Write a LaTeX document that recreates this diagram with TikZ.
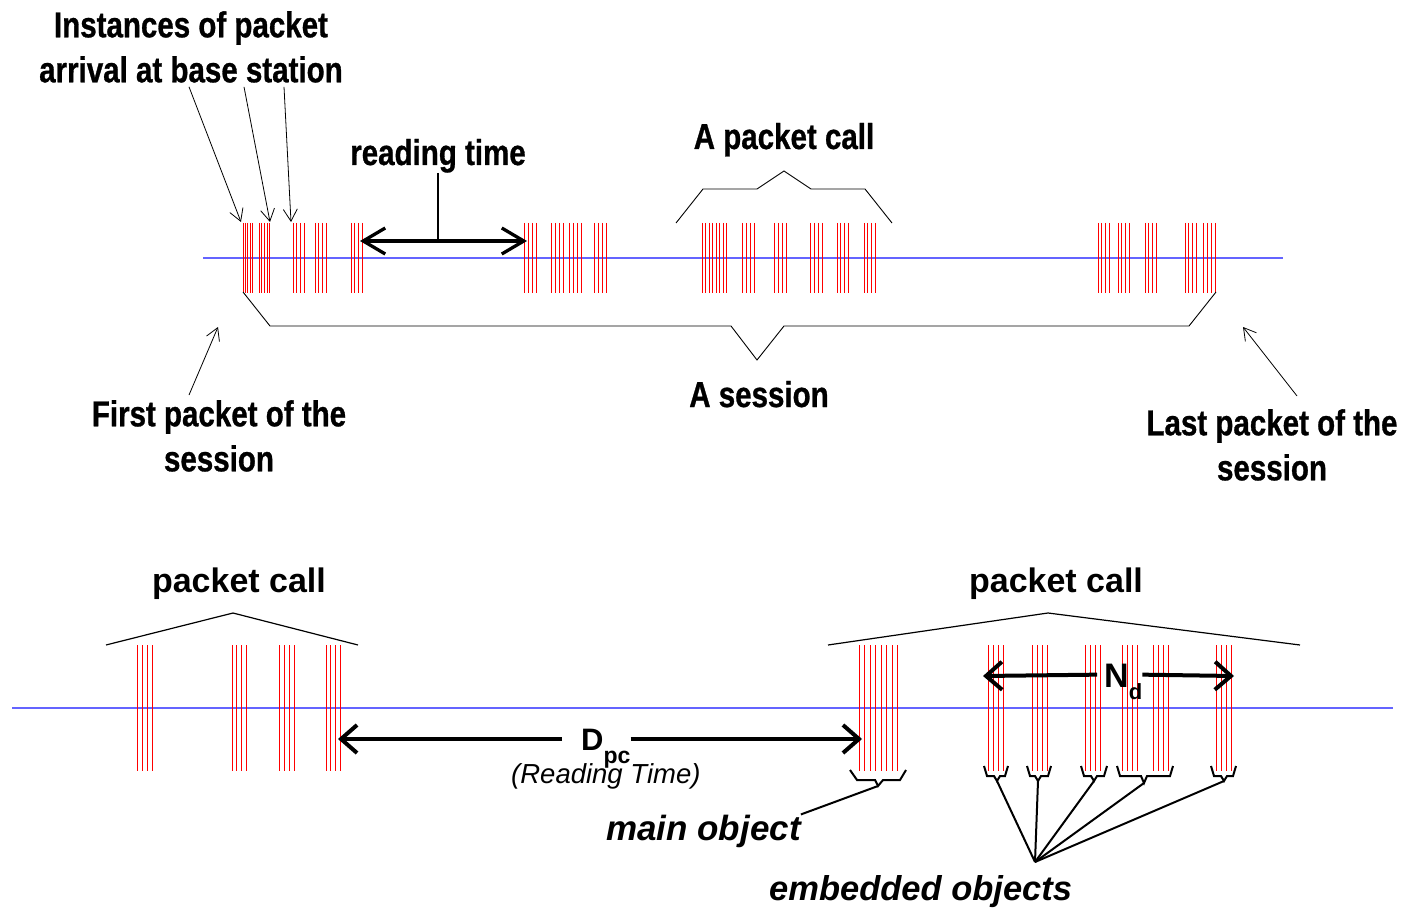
\documentclass[tikz,border=0pt]{standalone}
\usepackage{fontspec}
\setmainfont{Liberation Sans}
\newfontfamily\narrowsans{Liberation Sans}[FakeStretch=0.82,FakeBold=0.8]
\usepackage{tikz}
\usetikzlibrary{arrows.meta}
\definecolor{TimeLine}{RGB}{100,100,255}
\definecolor{Packet}{RGB}{255,0,0}

\begin{document}
\begin{tikzpicture}[
  x=1pt,y=-1pt,
  timeline/.style={draw=TimeLine,line width=1.6pt},
  pkt/.style={draw=Packet,line width=1pt},
  brace/.style={draw=black,line width=0.9pt},
  roof/.style={draw=black,line width=1.2pt},
  objbrace/.style={draw=black,line width=2pt},
  leader/.style={draw=black,line width=2pt},
  toplabel/.style={font={\narrowsans\bfseries\fontsize{36}{45}\selectfont},inner sep=0pt,align=center},
  botlabel/.style={font={\bfseries\fontsize{34}{40}\selectfont},inner sep=0pt},
  objlabel/.style={font={\bfseries\itshape\fontsize{35}{40}\selectfont},inner sep=0pt},
  pointer/.style={-{Straight Barb[length=12pt,width=14pt]},line width=0.8pt},
  gaparr/.style={{Straight Barb[length=22pt,width=26pt]}-{Straight Barb[length=22pt,width=26pt]},line width=3.3pt},
  bigarr/.style={-{Straight Barb[length=16pt,width=28pt]},line width=4pt}]
  \useasboundingbox (0,0) rectangle (1420,909);
  % upper time line: one session
  \draw[timeline] (203,258) -- (1283,258);
  \foreach \s/\n/\d in {243/5/2.4, 259/5/2.7, 293/4/3.7, 315/4/3.7, 351/4/3.8, 524/4/4.2, 551/4/4.1, 569/4/4.2, 594/4/4.2, 702/8/3.5, 742/4/4, 774/4/4, 810/4/4, 837/4/3.9, 864/4/3.9, 1098/4/3.8, 1118/4/3.7, 1145/4/3.7, 1185/4/3.9, 1203/4/4}
    \foreach \i in {1,...,\n}
      \draw[pkt] ({\s+(\i-1)*\d},223) -- ++(0,70);
  \node[toplabel,anchor=north] (inst) at (191,11) {Instances of packet\\arrival at base station};
  \coordinate (hitA) at (241,222);
  \coordinate (hitB) at (270,222);
  \coordinate (hitC) at (291,222);
  \draw[pointer] ([xshift=-2pt,yshift=-4pt]inst.south) -- (hitA);
  \draw[pointer] ([xshift=53pt,yshift=-4pt]inst.south) -- (hitB);
  \draw[pointer] ([xshift=93pt,yshift=-4pt]inst.south) -- (hitC);
  \node[toplabel,anchor=base] (rt) at (438,165) {reading time};
  \coordinate (rtL) at (360,241);
  \coordinate (rtR) at (527,241);
  \draw[gaparr] (rtL) -- (rtR);
  \draw[line width=1.4pt] (rt.south) -- (rt.south |- rtL);
  \node[toplabel,anchor=base] (call) at (784,149) {A packet call};
  \draw[brace] (676,223) -- (703,189) -- (757,189) -- (784,171) -- (811,189) -- (865,189) -- (892,223);
  \draw[brace] (243,292) -- (270,326) -- (731,326) -- (757,360) -- (784,326) -- (1189,326) -- (1216,292);
  \node[toplabel,anchor=base] (ses) at (759,407) {A session};
  \node[toplabel,anchor=north] (first) at (219,400) {First packet of the\\session};
  \coordinate (firstpkt) at (218,327);
  \draw[pointer] ([xshift=-30pt,yshift=5pt]first.north) -- (firstpkt);
  \node[toplabel,anchor=north] (last) at (1272,409) {Last packet of the\\session};
  \coordinate (lastpkt) at (1243,327);
  \draw[pointer] ([xshift=25pt,yshift=13pt]last.north) -- (lastpkt);
  % lower time line: two packet calls
  \draw[timeline] (12,708) -- (1393,708);
  \foreach \s/\n/\d in {137/4/5, 232/4/4.8, 279/4/5, 326/4/4.8, 859/8/5.5, 988/4/5.3, 1032/4/5.1, 1085/4/5, 1122/4/5, 1153/4/5.2, 1216/4/5}
    \foreach \i in {1,...,\n}
      \draw[pkt] ({\s+(\i-1)*\d},645) -- ++(0,126);
  \draw[roof] (106,645) -- (233,613) -- (358,645);
  \draw[roof] (828,645) -- (1048,613) -- (1300,645);
  \node[botlabel,anchor=base] (callL) at (239,592) {packet call};
  \node[botlabel,anchor=base] (callR) at (1056,592) {packet call};
  \coordinate (dpcL) at (338,739);
  \coordinate (dpcR) at (862,739);
  \node[inner sep=0pt,text height=22pt,text depth=0pt,anchor=base west,font=\bfseries] (dpc) at (562,750)
    {\hspace{19pt}{\fontsize{31}{31}\selectfont D}\raisebox{-13pt}{\fontsize{23}{23}\selectfont pc}\hspace{8pt}};
  \draw[bigarr] (dpc.west) -- (dpcL);
  \draw[bigarr] (dpc.east) -- (dpcR);
  \node[inner sep=0pt,anchor=base west,font={\itshape\fontsize{27.5}{30}\selectfont}] (rdt) at (511,783) {(Reading Time)};
  \coordinate (ndL) at (983,676);
  \coordinate (ndR) at (1234,676);
  \node[inner sep=0pt,text height=24.7pt,text depth=0pt,anchor=base west,font=\bfseries] (nd) at (1097,687)
    {\hspace{7pt}{\fontsize{34}{34}\selectfont N}\raisebox{-12pt}{\fontsize{22}{22}\selectfont d}\hspace{-7pt}};
  \draw[bigarr] (nd.west) -- (ndL);
  \draw[bigarr] (nd.east) -- (ndR);
  % objects
  \draw[objbrace] (850,770) -- (857,780) -- (875,780) -- (878,786) -- (883,780) -- (900,780) -- (906,770);
  \coordinate (mainhit) at (878,786);
  \node[objlabel,anchor=base west] (mo) at (606,840) {main object};
  \draw[leader] (mo.north east) -- (mainhit);
  \node[objlabel,anchor=base west,font={\bfseries\itshape\fontsize{34.5}{40}\selectfont}] (eo) at (769,900) {embedded objects};
  \coordinate (embhub) at (1035,862);
  \foreach \a/\t/\b/\h in {984/997/1008/781, 1027/1038/1051/781, 1081/1094/1107/781, 1117/1144/1173/783, 1211/1224/1236/781} {
    \draw[objbrace] (\a,766) -- ({\a+3},776) -- ({\t-3},776) -- (\t,\h) -- ({\t+3},776) -- ({\b-3},776) -- (\b,766);
    \coordinate (tip) at (\t,\h);
    \draw[leader] (tip) -- (embhub);
  }
\end{tikzpicture}
\end{document}
